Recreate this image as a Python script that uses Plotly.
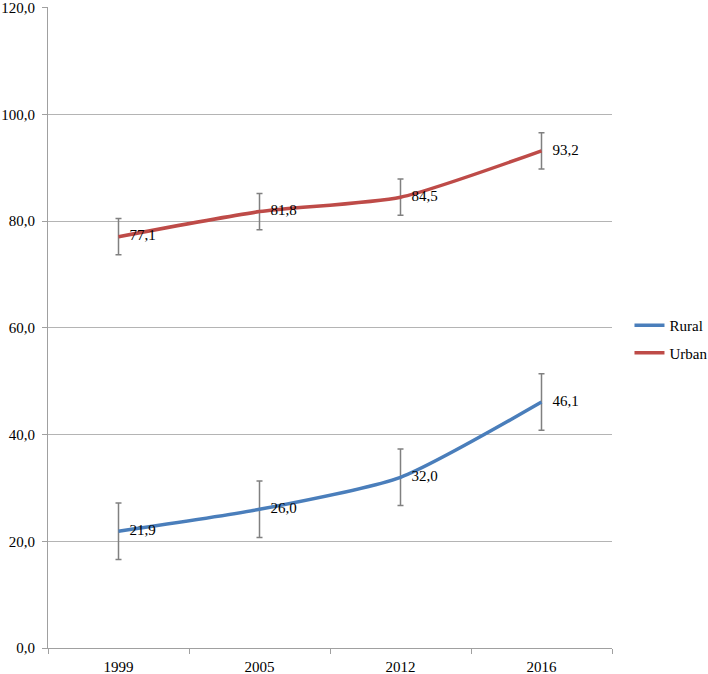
import plotly.graph_objects as go

years = ["1999", "2005", "2012", "2016"]
rural = [21.9, 26.0, 32.0, 46.1]
urban = [77.1, 81.8, 84.5, 93.2]
rural_err = [5.3, 5.3, 5.3, 5.3]
urban_err = [3.4, 3.4, 3.4, 3.4]
y_ticks = [0, 20, 40, 60, 80, 100, 120]

FONT = '"Liberation Serif", "Times New Roman", serif'

def lbl(vals):
    return [f"{v:.1f}".replace(".", ",") for v in vals]

fig = go.Figure()
for name, vals, err, color in [
    ("Rural", rural, rural_err, "#4A7EBB"),
    ("Urban", urban, urban_err, "#BE4B48"),
]:
    fig.add_trace(go.Scatter(
        x=years, y=vals, name=name, mode="lines+markers+text",
        line=dict(color=color, width=3.5, shape="spline", smoothing=0.6),
        marker=dict(size=16, color="rgba(0,0,0,0)", line=dict(width=0)),
        text=lbl(vals), textposition="middle right",
        textfont=dict(family=FONT, size=15, color="#000000"),
        error_y=dict(type="data", array=err, visible=True,
                     color="#808080", thickness=1.5, width=3),
        legendgroup=name,
    ))

fig.update_layout(
    width=708, height=674,
    margin=dict(l=48, r=96, t=7, b=26, autoexpand=False),
    paper_bgcolor="white", plot_bgcolor="white",
    font=dict(family=FONT, size=15, color="#000000"),
    separators=",.",
    showlegend=True,
    legend=dict(x=1.031, xanchor="left", y=0.482, yanchor="middle",
                font=dict(family=FONT, size=15), tracegroupgap=5,
                bgcolor="rgba(0,0,0,0)"),
)
fig.update_xaxes(
    type="category", tickson="boundaries", ticks="outside", ticklen=5,
    tickcolor="#a0a0a0", showline=True, linecolor="#a0a0a0", linewidth=1,
    showgrid=False, range=[-0.5, 3.5], ticklabelstandoff=5, automargin=False,
)
fig.update_yaxes(
    range=[0, 120.15], tickvals=y_ticks, tickformat=".1f",
    ticks="outside", ticklen=5, tickcolor="#a0a0a0",
    showline=True, linecolor="#a0a0a0", linewidth=1,
    showgrid=True, gridcolor="#b4b4b4", gridwidth=1, zeroline=False,
    ticklabeloverflow="allow", ticklabelstandoff=4, automargin=False,
)

fig.write_html("out.html", config={"displayModeBar": False},
               post_script="document.body.style.margin='0';")
